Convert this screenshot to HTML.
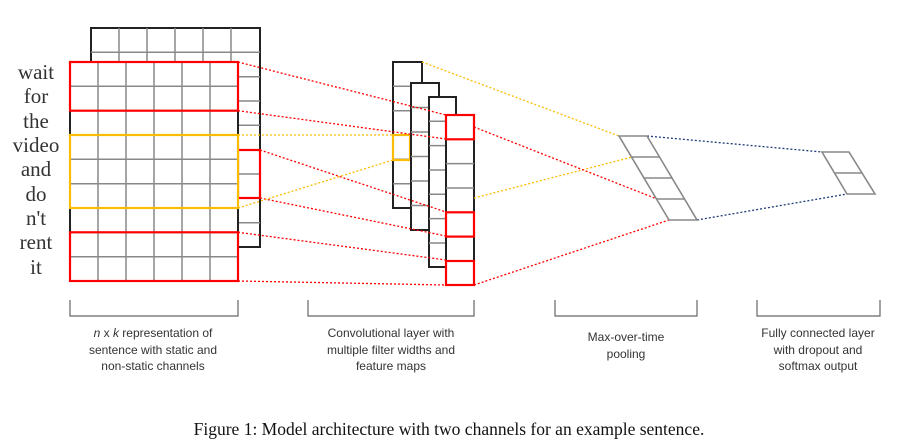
<!DOCTYPE html>
<html><head><meta charset="utf-8"><style>
html,body{margin:0;padding:0;background:#fff}
svg{display:block}
.w{font-family:"Liberation Serif",serif;font-size:21px;fill:#333;text-anchor:middle}
.l{font-family:"Liberation Sans",sans-serif;font-size:12px;fill:#333;text-anchor:middle}
</style></head><body>
<svg width="899" height="448" viewBox="0 0 899 448" xmlns="http://www.w3.org/2000/svg">
<!-- back matrix -->
<rect x="91" y="28" width="169" height="219" fill="#fff" stroke="#222" stroke-width="2"/>
<path d="M119 28V247M147 28V247M175 28V247M203 28V247M231 28V247M91 52.3H260M91 76.7H260M91 101H260M91 125.3H260M91 149.7H260M91 174H260M91 198.3H260M91 222.7H260" stroke="#888" stroke-width="1.5" fill="none"/>
<rect x="238" y="150" width="22" height="48" fill="none" stroke="#f00" stroke-width="2.2"/>
<!-- front matrix -->
<rect x="70" y="62" width="168" height="219" fill="#fff" stroke="#222" stroke-width="2"/>
<path d="M98 62V281M126 62V281M154 62V281M182 62V281M210 62V281M70 86.3H238M70 110.7H238M70 135H238M70 159.3H238M70 183.7H238M70 208H238M70 232.3H238M70 256.7H238" stroke="#888" stroke-width="1.5" fill="none"/>
<rect x="70" y="135" width="168" height="73" fill="none" stroke="#fbbc05" stroke-width="2.2"/>
<rect x="70" y="62" width="168" height="48.7" fill="none" stroke="#f00" stroke-width="2.2"/>
<rect x="70" y="232.3" width="168" height="48.7" fill="none" stroke="#f00" stroke-width="2.2"/>
<!-- words -->
<g class="w">
<text x="36" y="79">wait</text><text x="36" y="103">for</text><text x="36" y="128">the</text>
<text x="36" y="152">video</text><text x="36" y="176">and</text><text x="36" y="201">do</text>
<text x="36" y="225">n't</text><text x="36" y="249">rent</text><text x="36" y="274">it</text>
</g>
<!-- conv columns -->
<rect x="393" y="62" width="29" height="146" fill="#fff" stroke="#222" stroke-width="2"/>
<path d="M393 86.3H422M393 110.7H422M393 135H422M393 159.3H422M393 183.7H422" stroke="#888" stroke-width="1.5"/>
<rect x="393" y="135" width="17" height="25" fill="none" stroke="#fbbc05" stroke-width="2.2"/>
<rect x="411" y="83" width="28" height="147" fill="#fff" stroke="#222" stroke-width="2"/>
<path d="M411 107.5H439M411 132H439M411 156.5H439M411 181H439M411 205.5H439" stroke="#888" stroke-width="1.5"/>
<rect x="429" y="97" width="27" height="170" fill="#fff" stroke="#222" stroke-width="2"/>
<path d="M429 121.3H456M429 145.6H456M429 170H456M429 194.3H456M429 218.6H456M429 243H456" stroke="#888" stroke-width="1.5"/>
<rect x="446" y="115" width="28" height="170" fill="#fff" stroke="#222" stroke-width="2"/>
<path d="M446 139.3H474M446 163.6H474M446 188H474M446 212.3H474M446 236.6H474M446 261H474" stroke="#888" stroke-width="1.5"/>
<rect x="446" y="115" width="28" height="24.3" fill="none" stroke="#f00" stroke-width="2.2"/>
<rect x="446" y="212.3" width="28" height="24.3" fill="none" stroke="#f00" stroke-width="2.2"/>
<rect x="446" y="261" width="28" height="24" fill="none" stroke="#f00" stroke-width="2.2"/>
<!-- connectors matrix->conv -->
<g fill="none" stroke-dasharray="2 2" stroke-width="1.3">
<path d="M238 62L446 115M238 110.7L446 139M260 150L446 212M260 198L446 236M238 232.3L446 260M238 281L446 285" stroke="#f00"/>
<path d="M238 135L393 135M238 208L393 160" stroke="#fbbc05"/>
</g>
<!-- conv -> pooling -->
<g fill="none" stroke-dasharray="2 2" stroke-width="1.3">
<path d="M422 62L619 136M474 198L632 157" stroke="#fbbc05"/>
<path d="M474 127L657 199M474 285L669 220" stroke="#f00"/>
<path d="M647 136L822 152M697 220L847 194" stroke="#1f3a7a"/>
</g>
<!-- pooling -->
<g stroke="#888" stroke-width="1.6" fill="none">
<path d="M619 136H647L697 220H669Z"/>
<path d="M632 157H660M644 178H672M657 199H685"/>
<path d="M822 152H849L875 194H847Z"/>
<path d="M834.5 173H862"/>
</g>
<!-- brackets -->
<path d="M70 300V316H238V300M308 300V316H474V300M555 300V316H697V300M757 300V316H880V300" stroke="#666" stroke-width="1.2" fill="none"/>
<g class="l">
<text x="153" y="337"><tspan font-style="italic">n</tspan> x <tspan font-style="italic">k</tspan> representation of</text>
<text x="153" y="354">sentence with static and</text>
<text x="153" y="370">non-static channels</text>
<text x="391" y="337">Convolutional layer with</text>
<text x="391" y="354">multiple filter widths and</text>
<text x="391" y="370">feature maps</text>
<text x="626" y="341">Max-over-time</text>
<text x="626" y="358">pooling</text>
<text x="818" y="337">Fully connected layer</text>
<text x="818" y="354">with dropout and</text>
<text x="818" y="370">softmax output</text>
</g>
<text x="449" y="435" style="font-family:'Liberation Serif',serif;font-size:17.5px;fill:#111" text-anchor="middle">Figure 1: Model architecture with two channels for an example sentence.</text>
</svg>
</body></html>
